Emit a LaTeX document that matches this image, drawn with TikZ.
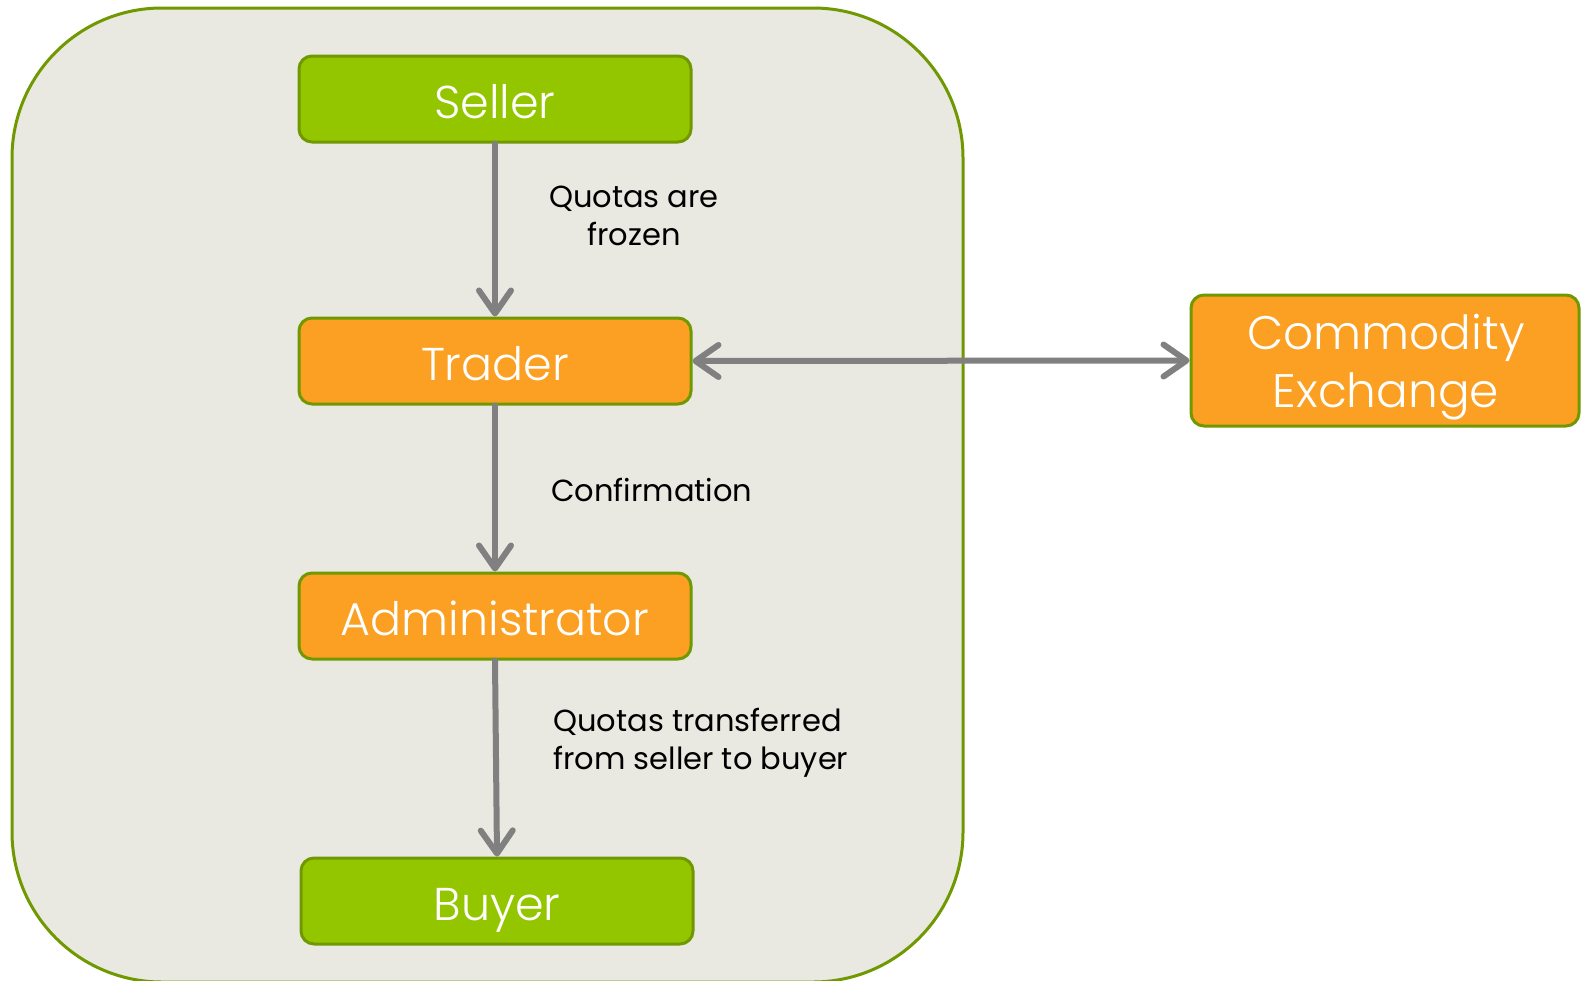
\documentclass[tikz,border=0pt]{standalone}
\usepackage{fontspec}
\setmainfont{Poppins}
\newfontfamily\lightfont{Poppins Light}
\usetikzlibrary{arrows.meta}
\definecolor{boxgreen}{RGB}{148,198,0}
\definecolor{boxorange}{RGB}{251,160,35}
\definecolor{olive}{RGB}{112,152,0}
\definecolor{panel}{RGB}{233,232,225}
\definecolor{arrowgray}{RGB}{128,128,128}
\tikzset{
  box/.style={draw=olive, line width=3pt, rounded corners=13pt, minimum width=392pt, minimum height=86pt,
    text=white, align=center, font=\lightfont\fontsize{46}{58}\selectfont, inner sep=0pt,
    text height=39pt, text depth=0pt},
  greenbox/.style={box, fill=boxgreen},
  orangebox/.style={box, fill=boxorange},
  boxtext/.style={text=white, align=center, font=\lightfont\fontsize{47}{58}\selectfont, inner sep=0pt},
  flow/.style={draw=arrowgray, line width=6pt, line cap=round,
    -{Straight Barb[length=23pt, width=32pt, line cap=round, line join=round]}},
  twoway/.style={draw=arrowgray, line width=6pt,
    {Straight Barb[length=23pt, width=32pt, line cap=round, line join=round]}-{Straight Barb[length=23pt, width=32pt, line cap=round, line join=round]}},
  lbl/.style={text=black, font=\fontsize{30.5}{38}\selectfont, inner sep=0pt}
}
\begin{document}
\begin{tikzpicture}[x=1pt,y=-1pt]
\useasboundingbox (0,0) rectangle (1581,980);
\draw[draw=olive, fill=panel, line width=3pt, rounded corners=150pt] (12,8) rectangle (963,982);
\node[greenbox] (seller) at (495,99) {Seller};
\node[orangebox] (trader) at (495,361) {Trader};
\node[orangebox] (admin) at (495,616) {Administrator};
\node[greenbox] (buyer) at (497,901) {Buyer};
\node[orangebox, minimum width=388pt, minimum height=131pt] (exch) at (1385,360.5) {};
\node[boxtext] (exchtxt) at (1386,367) {Commodity\\Exchange};
\draw[flow] (seller) -- (trader);
\draw[flow] (trader) -- (admin);
\draw[flow] (admin.south) -- (buyer.north);
\draw[twoway] (trader.east) -- (exch.west);
\node[lbl, align=center] (q1) at (634,216) {Quotas are\\frozen};
\node[lbl, anchor=west] (q2) at (551,490) {Confirmation};
\node[lbl, align=left, anchor=west] (q3) at (553,743) {Quotas transferred\\from seller to buyer};
\end{tikzpicture}
\end{document}
